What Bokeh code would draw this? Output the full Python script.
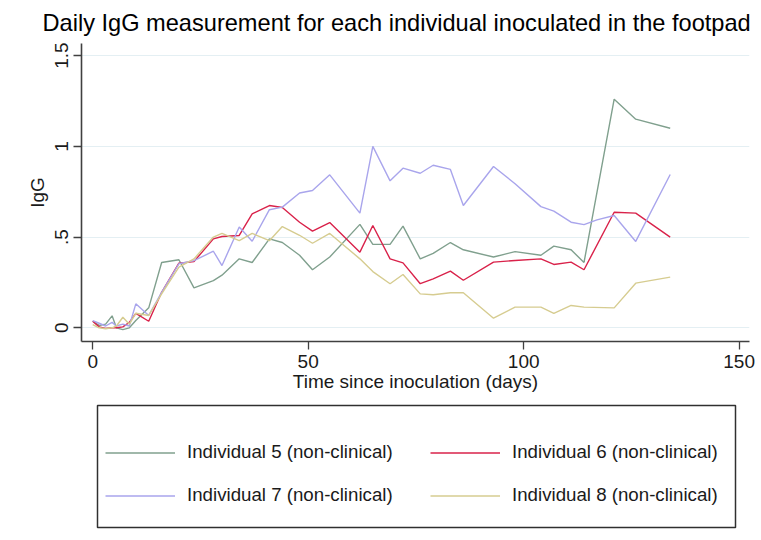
from bokeh.plotting import figure
from bokeh.models import Range1d, FixedTicker, Legend, LegendItem, BoxAnnotation
from bokeh.layouts import column
from bokeh.embed import file_html
from bokeh.resources import INLINE

# ---- data ----
days = [0, 1.5, 3, 4.5, 5.5, 7, 8.5, 10, 13, 16, 20, 23.5, 28, 30, 34, 37, 41, 44, 48, 51,
        55, 62, 65, 69, 72, 76, 79, 83, 86, 93, 98, 104, 107, 111, 114, 121, 126, 134]
days7 = [0, 1.5, 3, 4.5, 5.5, 7, 8.5, 10, 13, 16, 20, 23.5, 28, 30, 34, 37, 41, 44, 48, 51,
         55, 62, 65, 69, 72, 76, 79, 83, 86, 93, 98, 104, 107, 111, 114, 117, 121, 126, 134]
ind5 = [0.036, 0.013, 0.02, 0.066, 0.0, -0.01, 0.0, 0.04, 0.11, 0.36, 0.375, 0.22, 0.26, 0.29,
        0.38, 0.36, 0.49, 0.47, 0.40, 0.32, 0.39, 0.57, 0.46, 0.46, 0.56, 0.38, 0.41, 0.47,
        0.43, 0.39, 0.42, 0.40, 0.45, 0.43, 0.36, 1.26, 1.15, 1.10]
ind6 = [0.036, 0.005, -0.003, 0.0, 0.0, 0.005, 0.03, 0.08, 0.036, 0.196, 0.356, 0.365, 0.49,
        0.503, 0.509, 0.628, 0.674, 0.663, 0.582, 0.533, 0.58, 0.417, 0.564, 0.38, 0.358,
        0.243, 0.27, 0.312, 0.262, 0.362, 0.371, 0.38, 0.349, 0.362, 0.32, 0.637, 0.632, 0.5]
ind7 = [0.04, 0.025, 0.01, 0.03, 0.01, 0.02, 0.01, 0.132, 0.068, 0.196, 0.353, 0.37, 0.422,
        0.343, 0.556, 0.477, 0.651, 0.665, 0.743, 0.757, 0.843, 0.632, 1.0, 0.81, 0.88, 0.852,
        0.896, 0.873, 0.674, 0.889, 0.794, 0.668, 0.643, 0.582, 0.569, 0.595, 0.619, 0.476, 0.845]
ind8 = [0.018, 0.0, -0.005, 0.0, 0.01, 0.058, 0.02, 0.08, 0.068, 0.187, 0.334, 0.38, 0.5, 0.52,
        0.48, 0.52, 0.48, 0.558, 0.51, 0.466, 0.52, 0.38, 0.31, 0.243, 0.294, 0.187, 0.182,
        0.193, 0.193, 0.053, 0.114, 0.114, 0.08, 0.123, 0.114, 0.11, 0.246, 0.279]

labels = ["Individual 5 (non-clinical)", "Individual 6 (non-clinical)",
          "Individual 7 (non-clinical)", "Individual 8 (non-clinical)"]
colors = ["#80a08e", "#d9224a", "#a9a5ec", "#d6cc90"]

x_ticks = [0, 50, 100, 150]
y_ticks = [0, 0.5, 1, 1.5]
y_tick_labels = {0: "0", 0.5: ".5", 1: "1", 1.5: "1.5"}

FONT = "Liberation Sans"
PAGE = "#fdf9ed"

series = [(days, ind5), (days, ind6), (days7, ind7), (days, ind8)]

# ---- main chart ----
p = figure(width=761, height=398, output_backend="svg", toolbar_location=None,
           x_range=Range1d(-2.6, 152.4), y_range=Range1d(-0.0755, 1.567),
           min_border_left=81, min_border_right=12, min_border_top=43, min_border_bottom=57)
p.background_fill_color = "#ffffff"
p.border_fill_color = PAGE
p.border_fill_alpha = 0.0
p.outline_line_color = None

p.title.text = "Daily IgG measurement for each individual inoculated in the footpad"
p.title.text_font = FONT
p.title.text_font_size = "23.6px"
p.title.text_font_style = "normal"
p.title.text_color = "#000000"
p.title.align = "left"
p.title.offset = -39
p.title.standoff = 15

p.xgrid.grid_line_color = None
p.ygrid.ticker = FixedTicker(ticks=y_ticks)
p.ygrid.grid_line_color = "#e4eff3"
p.ygrid.grid_line_width = 1

p.xaxis.ticker = FixedTicker(ticks=x_ticks)
p.yaxis.ticker = FixedTicker(ticks=y_ticks)
p.yaxis.major_label_overrides = y_tick_labels
p.yaxis.major_label_orientation = "vertical"
p.xaxis.axis_label = "Time since inoculation (days)"
p.yaxis.axis_label = "IgG"
for ax in (p.xaxis[0], p.yaxis[0]):
    ax.axis_line_color = "#404040"
    ax.axis_line_width = 1.6
    ax.major_tick_line_color = "#404040"
    ax.major_tick_line_width = 1.3
    ax.major_tick_out = 8
    ax.major_tick_in = 0
    ax.minor_tick_line_color = None
    ax.major_label_text_font = FONT
    ax.major_label_text_font_size = "19px"
    ax.major_label_text_color = "#1a1a1a"
    ax.axis_label_text_font = FONT
    ax.axis_label_text_font_size = "19px"
    ax.axis_label_text_font_style = "normal"
    ax.axis_label_text_color = "#1a1a1a"
p.xaxis.major_label_standoff = 5
p.xaxis.axis_label_standoff = 0
p.yaxis.major_label_standoff = 5
p.yaxis.axis_label_standoff = 5

for (xs, ys), col in zip(series, colors):
    p.line(xs, ys, line_color=col, line_width=1.4)

# ---- legend strip below the chart (its frame is aligned with the chart's frame) ----
lg = figure(width=761, height=142, output_backend="svg", toolbar_location=None,
            x_range=Range1d(-1000, -999), y_range=Range1d(-1000, -999),
            x_axis_type=None, y_axis_type=None,
            min_border_left=81, min_border_right=12, min_border_top=0, min_border_bottom=0)
lg.background_fill_color = PAGE
lg.background_fill_alpha = 0.0
lg.border_fill_color = PAGE
lg.border_fill_alpha = 0.0
lg.outline_line_color = None
lg.xgrid.visible = False
lg.ygrid.visible = False
# the same series, drawn outside this strip's visible range, serve as legend keys
keys = [lg.line(xs, ys, line_color=col, line_width=1.6) for (xs, ys), col in zip(series, colors)]

# frame of the legend box
lg.add_layout(BoxAnnotation(left=16, right=654, bottom=13, top=135,
                            left_units="screen", right_units="screen",
                            bottom_units="screen", top_units="screen",
                            fill_alpha=0.0, fill_color=None,
                            line_color="#303030", line_width=1.5, line_alpha=1.0))

# legend fills column by column: order 5, 7, 6, 8 gives rows (5, 6) and (7, 8)
order = [0, 2, 1, 3]
items = [LegendItem(label=labels[i], renderers=[keys[i]]) for i in order]

legend = Legend(items=items, ncols=2, location=(24, 23.5),
                label_text_font=FONT, label_text_font_size="18.7px", label_text_color="#1a1a1a",
                glyph_width=70, glyph_height=43, label_height=43, label_width=243,
                label_standoff=12, spacing=0, padding=0, margin=0,
                border_line_color=None, background_fill_alpha=0.0)
lg.add_layout(legend, "center")

page = column(p, lg, spacing=0)

html = file_html(page, INLINE)
html = html.replace("<body>", '<body style="background-color:%s; margin:0;">' % PAGE, 1)
open("out.html", "w").write(html)
